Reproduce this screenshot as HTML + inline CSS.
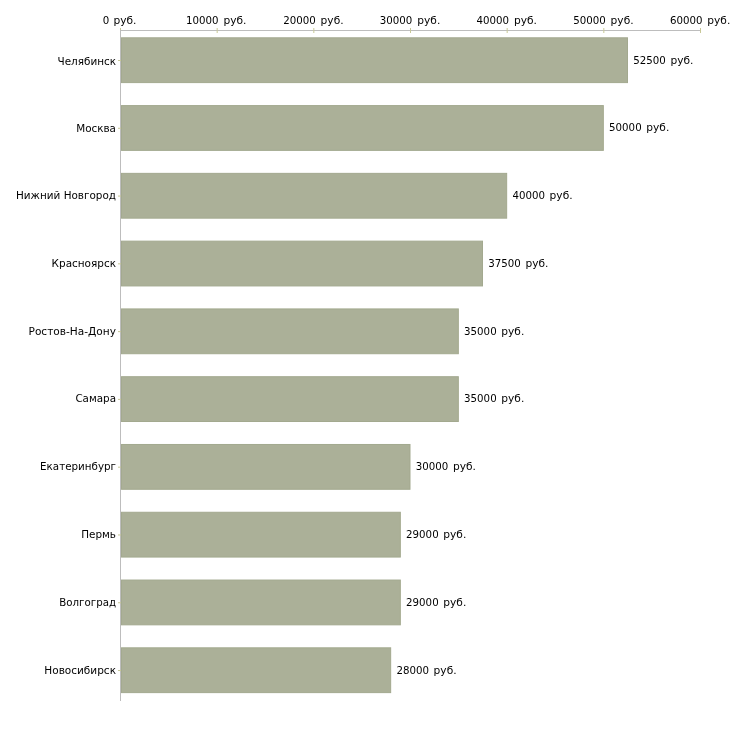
<!DOCTYPE html>
<html lang="ru"><head><meta charset="utf-8"><title>Зарплата по городам</title>
<style>
html,body{margin:0;padding:0;background:#fff;}
body{width:730px;height:730px;overflow:hidden;}
svg{display:block;}
text{font-family:"DejaVu Sans","Liberation Sans",sans-serif;font-size:11px;fill:#000;}
.t{fill:#c8c898}.a{fill:#bdbdbd}.b{fill:#abb098;stroke:#a3a98f;stroke-width:1}
</style></head><body>
<svg width="730" height="730" viewBox="0 0 730 730">
<rect width="730" height="730" fill="#fff"/>
<rect class="a" shape-rendering="crispEdges" x="120" y="30" width="581" height="1"/>
<rect class="t" x="120.00" y="28" width="1" height="5"/>
<rect class="t" x="216.67" y="28" width="1" height="5"/>
<rect class="t" x="313.33" y="28" width="1" height="5"/>
<rect class="t" x="410.00" y="28" width="1" height="5"/>
<rect class="t" x="506.67" y="28" width="1" height="5"/>
<rect class="t" x="603.33" y="28" width="1" height="5"/>
<rect class="t" x="700.00" y="28" width="1" height="5"/>
<rect class="a" shape-rendering="crispEdges" x="120" y="30" width="1" height="671"/>
<rect class="t" x="118" y="60.00" width="3" height="1"/>
<rect class="t" x="118" y="127.78" width="3" height="1"/>
<rect class="t" x="118" y="195.56" width="3" height="1"/>
<rect class="t" x="118" y="263.34" width="3" height="1"/>
<rect class="t" x="118" y="331.12" width="3" height="1"/>
<rect class="t" x="118" y="398.90" width="3" height="1"/>
<rect class="t" x="118" y="466.68" width="3" height="1"/>
<rect class="t" x="118" y="534.46" width="3" height="1"/>
<rect class="t" x="118" y="602.24" width="3" height="1"/>
<rect class="t" x="118" y="670.02" width="3" height="1"/>
<rect class="b" x="121.5" y="37.80" width="506.00" height="44.8"/>
<rect class="b" x="121.5" y="105.58" width="481.83" height="44.8"/>
<rect class="b" x="121.5" y="173.36" width="385.17" height="44.8"/>
<rect class="b" x="121.5" y="241.14" width="361.00" height="44.8"/>
<rect class="b" x="121.5" y="308.92" width="336.83" height="44.8"/>
<rect class="b" x="121.5" y="376.70" width="336.83" height="44.8"/>
<rect class="b" x="121.5" y="444.48" width="288.50" height="44.8"/>
<rect class="b" x="121.5" y="512.26" width="278.83" height="44.8"/>
<rect class="b" x="121.5" y="580.04" width="278.83" height="44.8"/>
<rect class="b" x="121.5" y="647.82" width="269.17" height="44.8"/>
<text x="102.8" y="24"><tspan textLength="6.51" lengthAdjust="spacingAndGlyphs">0</tspan> <tspan x="113.5" textLength="23.0" lengthAdjust="spacingAndGlyphs">руб.</tspan></text>
<text x="185.9" y="24"><tspan textLength="32.55" lengthAdjust="spacingAndGlyphs">10000</tspan> <tspan x="223.4" textLength="23.0" lengthAdjust="spacingAndGlyphs">руб.</tspan></text>
<text x="283.2" y="24"><tspan textLength="32.55" lengthAdjust="spacingAndGlyphs">20000</tspan> <tspan x="320.6" textLength="23.0" lengthAdjust="spacingAndGlyphs">руб.</tspan></text>
<text x="379.8" y="24"><tspan textLength="32.55" lengthAdjust="spacingAndGlyphs">30000</tspan> <tspan x="417.3" textLength="23.0" lengthAdjust="spacingAndGlyphs">руб.</tspan></text>
<text x="476.5" y="24"><tspan textLength="32.55" lengthAdjust="spacingAndGlyphs">40000</tspan> <tspan x="514.0" textLength="23.0" lengthAdjust="spacingAndGlyphs">руб.</tspan></text>
<text x="573.2" y="24"><tspan textLength="32.55" lengthAdjust="spacingAndGlyphs">50000</tspan> <tspan x="610.6" textLength="23.0" lengthAdjust="spacingAndGlyphs">руб.</tspan></text>
<text x="669.9" y="24"><tspan textLength="32.55" lengthAdjust="spacingAndGlyphs">60000</tspan> <tspan x="707.3" textLength="23.0" lengthAdjust="spacingAndGlyphs">руб.</tspan></text>
<text x="116" y="65" text-anchor="end" textLength="58.5" lengthAdjust="spacingAndGlyphs">Челябинск</text>
<text x="633.3" y="64"><tspan textLength="32.55" lengthAdjust="spacingAndGlyphs">52500</tspan> <tspan x="670.4" textLength="23.0" lengthAdjust="spacingAndGlyphs">руб.</tspan></text>
<text x="116" y="132" text-anchor="end" textLength="39.8" lengthAdjust="spacingAndGlyphs">Москва</text>
<text x="609.1" y="131"><tspan textLength="32.55" lengthAdjust="spacingAndGlyphs">50000</tspan> <tspan x="646.3" textLength="23.0" lengthAdjust="spacingAndGlyphs">руб.</tspan></text>
<text x="116" y="199" text-anchor="end" textLength="100.0" lengthAdjust="spacingAndGlyphs">Нижний Новгород</text>
<text x="512.5" y="199"><tspan textLength="32.55" lengthAdjust="spacingAndGlyphs">40000</tspan> <tspan x="549.6" textLength="23.0" lengthAdjust="spacingAndGlyphs">руб.</tspan></text>
<text x="116" y="267" text-anchor="end" textLength="64.4" lengthAdjust="spacingAndGlyphs">Красноярск</text>
<text x="488.3" y="267"><tspan textLength="32.55" lengthAdjust="spacingAndGlyphs">37500</tspan> <tspan x="525.5" textLength="23.0" lengthAdjust="spacingAndGlyphs">руб.</tspan></text>
<text x="116" y="335" text-anchor="end" textLength="87.5" lengthAdjust="spacingAndGlyphs">Ростов-На-Дону</text>
<text x="464.1" y="335"><tspan textLength="32.55" lengthAdjust="spacingAndGlyphs">35000</tspan> <tspan x="501.3" textLength="23.0" lengthAdjust="spacingAndGlyphs">руб.</tspan></text>
<text x="116" y="402" text-anchor="end" textLength="40.6" lengthAdjust="spacingAndGlyphs">Самара</text>
<text x="464.1" y="402"><tspan textLength="32.55" lengthAdjust="spacingAndGlyphs">35000</tspan> <tspan x="501.3" textLength="23.0" lengthAdjust="spacingAndGlyphs">руб.</tspan></text>
<text x="116" y="470" text-anchor="end" textLength="75.9" lengthAdjust="spacingAndGlyphs">Екатеринбург</text>
<text x="415.8" y="470"><tspan textLength="32.55" lengthAdjust="spacingAndGlyphs">30000</tspan> <tspan x="453.0" textLength="23.0" lengthAdjust="spacingAndGlyphs">руб.</tspan></text>
<text x="116" y="538" text-anchor="end" textLength="34.8" lengthAdjust="spacingAndGlyphs">Пермь</text>
<text x="406.1" y="538"><tspan textLength="32.55" lengthAdjust="spacingAndGlyphs">29000</tspan> <tspan x="443.3" textLength="23.0" lengthAdjust="spacingAndGlyphs">руб.</tspan></text>
<text x="116" y="606" text-anchor="end" textLength="56.7" lengthAdjust="spacingAndGlyphs">Волгоград</text>
<text x="406.1" y="606"><tspan textLength="32.55" lengthAdjust="spacingAndGlyphs">29000</tspan> <tspan x="443.3" textLength="23.0" lengthAdjust="spacingAndGlyphs">руб.</tspan></text>
<text x="116" y="674" text-anchor="end" textLength="71.7" lengthAdjust="spacingAndGlyphs">Новосибирск</text>
<text x="396.5" y="674"><tspan textLength="32.55" lengthAdjust="spacingAndGlyphs">28000</tspan> <tspan x="433.6" textLength="23.0" lengthAdjust="spacingAndGlyphs">руб.</tspan></text>
</svg></body></html>
